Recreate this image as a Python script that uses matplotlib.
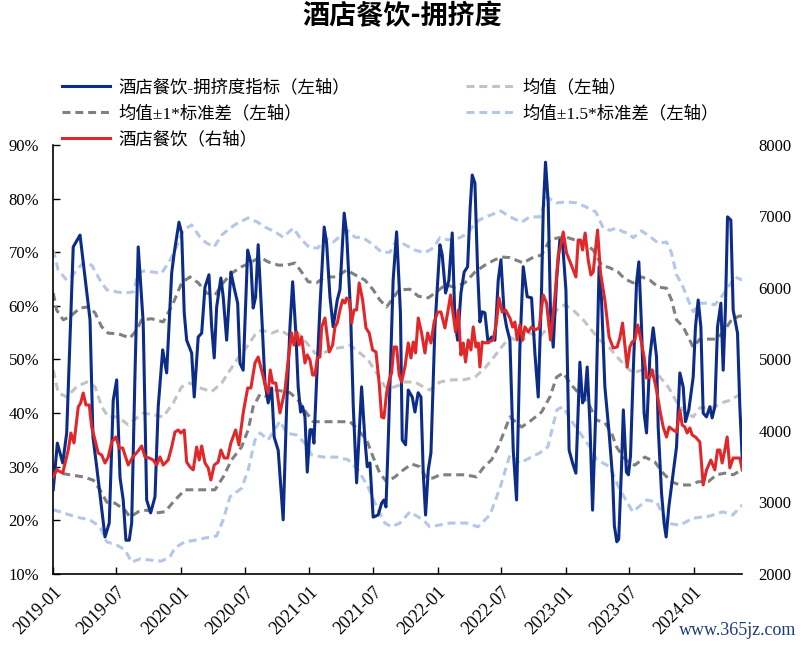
import numpy as np
import pandas as pd
import matplotlib
matplotlib.use("Agg")
import matplotlib.pyplot as plt
import matplotlib.dates as mdates
from matplotlib.lines import Line2D
from matplotlib.ticker import FuncFormatter, MultipleLocator

plt.rcParams["font.family"] = ["Liberation Serif", "Noto Sans CJK SC", "DejaVu Sans"]
plt.rcParams["axes.unicode_minus"] = False

# time is in years since 2019-01-01
idx_t = [0.002, 0.034, 0.076, 0.107, 0.158, 0.211, 0.289, 0.312, 0.341, 0.406,
         0.439, 0.470, 0.497, 0.523, 0.548, 0.569, 0.595, 0.614, 0.640, 0.665,
         0.704, 0.731, 0.762, 0.796, 0.821, 0.856, 0.887, 0.926, 0.946, 0.983,
         1.004, 1.024, 1.043, 1.082, 1.102, 1.133, 1.160, 1.186, 1.217, 1.238,
         1.258, 1.277, 1.310, 1.328, 1.355, 1.388, 1.414, 1.441, 1.459, 1.484,
         1.519, 1.544, 1.562, 1.581, 1.601, 1.633, 1.654, 1.679, 1.706, 1.726,
         1.757, 1.796, 1.823, 1.849, 1.870, 1.895, 1.913, 1.932, 1.948, 1.966,
         1.984, 2.005, 2.023, 2.036, 2.057, 2.083, 2.116, 2.135, 2.161, 2.186,
         2.218, 2.239, 2.272, 2.291, 2.322, 2.343, 2.369, 2.408, 2.434, 2.452,
         2.473, 2.498, 2.537, 2.564, 2.582, 2.598, 2.616, 2.654, 2.681, 2.711,
         2.725, 2.751, 2.772, 2.803, 2.824, 2.849, 2.871, 2.889, 2.907, 2.928,
         2.949, 2.980, 3.019, 3.037, 3.063, 3.089, 3.115, 3.136, 3.157, 3.183,
         3.208, 3.235, 3.255, 3.271, 3.292, 3.313, 3.331, 3.349, 3.370, 3.395,
         3.422, 3.448, 3.474, 3.495, 3.520, 3.539, 3.565, 3.591, 3.617, 3.643,
         3.669, 3.700, 3.734, 3.760, 3.786, 3.812, 3.825, 3.843, 3.864, 3.882,
         3.903, 3.929, 3.955, 3.976, 4.002, 4.027, 4.054, 4.080, 4.111, 4.132,
         4.150, 4.168, 4.189, 4.210, 4.236, 4.261, 4.280, 4.306, 4.339, 4.366,
         4.380, 4.399, 4.414, 4.436, 4.450, 4.474, 4.490, 4.506, 4.527, 4.553,
         4.571, 4.592, 4.612, 4.631, 4.657, 4.683, 4.709, 4.722, 4.748, 4.768,
         4.784, 4.805, 4.839, 4.865, 4.891, 4.917, 4.935, 4.961, 4.995, 5.013,
         5.034, 5.055, 5.073, 5.099, 5.125, 5.143, 5.164, 5.185, 5.211, 5.229,
         5.247, 5.263, 5.289, 5.307, 5.341, 5.359, 5.378]
idx_v = [25.7, 34.4, 30.7, 36.3, 71.0, 73.2, 57.4, 35.5, 30.0, 16.9,
         19.5, 42.4, 46.2, 28.0, 23.8, 16.3, 16.3, 19.5, 47.5, 71.0,
         56.8, 23.8, 21.4, 24.4, 41.2, 51.8, 47.5, 66.1, 69.9, 75.6,
         73.6, 58.7, 53.6, 51.2, 43.0, 54.2, 54.9, 63.5, 65.8, 56.1,
         50.3, 59.8, 65.2, 61.7, 53.6, 66.3, 63.3, 60.5, 49.3, 48.0,
         70.4, 68.0, 59.6, 61.7, 71.4, 56.1, 45.6, 41.9, 44.7, 35.5,
         33.1, 20.1, 41.2, 56.1, 64.5, 54.9, 44.9, 40.2, 41.2, 39.3,
         29.0, 36.9, 36.9, 34.4, 46.2, 59.8, 74.7, 71.7, 61.7, 56.1,
         61.1, 63.0, 77.3, 73.6, 58.7, 41.2, 27.0, 44.9, 35.0, 30.0,
         30.7, 20.6, 21.0, 23.2, 23.8, 22.5, 35.0, 64.8, 73.8, 58.7,
         35.0, 34.1, 44.3, 43.0, 40.2, 43.8, 43.0, 28.8, 21.0, 29.4,
         32.6, 56.1, 71.4, 69.5, 62.4, 64.8, 73.6, 57.4, 53.6, 62.4,
         66.3, 67.3, 78.4, 84.4, 82.9, 66.7, 57.0, 58.9, 58.7, 53.1,
         54.2, 53.6, 64.8, 68.6, 58.7, 56.1, 53.6, 33.1, 23.8, 52.3,
         67.3, 61.7, 61.5, 51.2, 43.0, 63.0, 77.9, 86.8, 79.2, 58.7,
         52.3, 64.8, 72.3, 71.7, 63.0, 33.1, 30.7, 28.8, 49.5, 41.9,
         43.0, 48.6, 38.2, 21.9, 41.2, 67.3, 61.1, 44.9, 36.3, 28.1,
         19.0, 16.0, 16.5, 30.0, 40.6, 29.0, 28.5, 32.0, 47.5, 64.3,
         68.2, 56.1, 40.0, 36.3, 50.5, 55.9, 50.5, 37.4, 25.1, 19.5,
         16.9, 22.5, 28.8, 33.7, 47.5, 44.9, 38.4, 40.6, 46.7, 56.1,
         61.1, 56.1, 40.0, 39.3, 41.2, 39.1, 41.2, 56.1, 60.5, 48.0,
         59.8, 76.6, 76.0, 59.2, 54.9, 41.2, 31.3]

sales_t = [0.002, 0.029, 0.076, 0.119, 0.140, 0.164, 0.197, 0.216, 0.236, 0.257,
           0.283, 0.302, 0.328, 0.353, 0.380, 0.406, 0.431, 0.458, 0.491, 0.517,
           0.544, 0.569, 0.587, 0.622, 0.658, 0.692, 0.718, 0.751, 0.782, 0.809,
           0.835, 0.860, 0.899, 0.926, 0.952, 0.977, 0.998, 1.024, 1.043, 1.069,
           1.094, 1.121, 1.141, 1.160, 1.186, 1.211, 1.232, 1.258, 1.289, 1.310,
           1.336, 1.363, 1.388, 1.425, 1.451, 1.484, 1.519, 1.544, 1.576, 1.601,
           1.633, 1.659, 1.679, 1.695, 1.714, 1.739, 1.771, 1.810, 1.835, 1.862,
           1.880, 1.901, 1.921, 1.940, 1.966, 1.984, 2.005, 2.026, 2.044, 2.062,
           2.083, 2.096, 2.122, 2.155, 2.182, 2.200, 2.218, 2.239, 2.260, 2.278,
           2.291, 2.311, 2.330, 2.348, 2.369, 2.389, 2.416, 2.442, 2.467, 2.494,
           2.520, 2.545, 2.564, 2.582, 2.603, 2.623, 2.642, 2.660, 2.681, 2.701,
           2.720, 2.746, 2.772, 2.793, 2.811, 2.829, 2.850, 2.876, 2.902, 2.923,
           2.949, 2.974, 3.001, 3.027, 3.058, 3.079, 3.102, 3.123, 3.141, 3.162,
           3.183, 3.201, 3.219, 3.240, 3.261, 3.279, 3.300, 3.318, 3.331, 3.349,
           3.375, 3.401, 3.435, 3.461, 3.479, 3.505, 3.531, 3.565, 3.586, 3.604,
           3.622, 3.643, 3.664, 3.682, 3.708, 3.734, 3.760, 3.793, 3.825, 3.851,
           3.882, 3.916, 3.942, 3.960, 3.981, 4.007, 4.038, 4.080, 4.098, 4.116,
           4.132, 4.152, 4.176, 4.197, 4.215, 4.249, 4.272, 4.306, 4.339, 4.371,
           4.402, 4.423, 4.444, 4.462, 4.480, 4.501, 4.519, 4.540, 4.563, 4.587,
           4.612, 4.631, 4.657, 4.675, 4.709, 4.735, 4.761, 4.787, 4.807, 4.839,
           4.865, 4.891, 4.909, 4.930, 4.948, 4.969, 4.987, 5.013, 5.047, 5.073,
           5.099, 5.133, 5.164, 5.185, 5.203, 5.221, 5.242, 5.260, 5.281, 5.307,
           5.333, 5.359, 5.378]
sales_v = [3357, 3455, 3413, 3734, 3972, 3832, 4336, 4392, 4531, 4364,
           4364, 4056, 3874, 3692, 3664, 3552, 3636, 3846, 3916, 3762,
           3762, 3622, 3524, 3636, 3706, 3790, 3636, 3622, 3594, 3524,
           3636, 3524, 3594, 3776, 3986, 4014, 3972, 4014, 3566, 3496,
           3455, 3776, 3594, 3790, 3552, 3483, 3315, 3524, 3566, 3734,
           3622, 3622, 3832, 4014, 3804, 4252, 4601, 4601, 4951, 5035,
           4811, 4615, 4531, 4853, 4671, 4671, 4252, 4573, 4993, 5371,
           5203, 5385, 5203, 5315, 4951, 5063, 4993, 4783, 4783, 5021,
           5035, 5455, 5580, 5105, 5203, 5455, 5510, 5692, 5832, 5790,
           5860, 5832, 5510, 5692, 5692, 6070, 5832, 5441, 5371, 5133,
           5105, 4671, 4196, 4182, 4531, 4713, 4811, 5175, 5175, 4783,
           4685, 4895, 5231, 5021, 5245, 5091, 5580, 5371, 5091, 5371,
           5231, 5524, 5664, 5664, 5441, 5650, 5902, 5622, 5385, 5692,
           5063, 5231, 4965, 5273, 5133, 5455, 5175, 5231, 4895, 5245,
           5231, 5245, 5273, 5524, 5860, 5664, 5692, 5580, 5455, 5524,
           5273, 5483, 5273, 5455, 5385, 5455, 5413, 5441, 5902, 5790,
           5273, 5874, 6462, 6573, 6783, 6490, 6350, 6154, 6671, 6671,
           6531, 6769, 6392, 6182, 6224, 6811, 6210, 5832, 5315, 5161,
           5175, 5301, 5510, 5203, 4895, 5175, 5245, 5273, 5483, 5273,
           5035, 4741, 4755, 4853, 4573, 4294, 4056, 3916, 4056, 4014,
           3986, 4294, 4084, 4056, 3972, 4042, 3944, 3916, 3846, 3245,
           3455, 3594, 3455, 3734, 3734, 3552, 3734, 3916, 3483, 3622,
           3622, 3622, 3455]

up15_t = [0.002, 0.041, 0.107, 0.146, 0.185, 0.236, 0.302, 0.367, 0.419, 0.497,
          0.562, 0.626, 0.665, 0.704, 0.782, 0.848, 0.913, 0.952, 1.016, 1.082,
          1.147, 1.199, 1.258, 1.316, 1.381, 1.445, 1.523, 1.597, 1.654, 1.732,
          1.796, 1.874, 1.940, 2.005, 2.069, 2.122, 2.186, 2.252, 2.303, 2.356,
          2.420, 2.498, 2.564, 2.629, 2.681, 2.746, 2.824, 2.902, 2.966, 3.019,
          3.083, 3.175, 3.240, 3.292, 3.357, 3.422, 3.495, 3.565, 3.656, 3.721,
          3.799, 3.851, 3.929, 4.007, 4.085, 4.163, 4.236, 4.293, 4.345, 4.397,
          4.449, 4.493, 4.527, 4.592, 4.670, 4.722, 4.787, 4.826, 4.865, 4.917,
          4.956, 4.995, 5.047, 5.112, 5.164, 5.216, 5.268, 5.320, 5.378]
up15_v = [70.4, 66.7, 64.8, 65.4, 66.7, 68.0, 67.6, 64.8, 63.0, 62.6,
          62.4, 62.6, 66.1, 66.5, 66.3, 66.1, 68.5, 70.4, 74.1, 75.1,
          72.8, 71.7, 71.0, 73.2, 74.5, 75.5, 76.4, 75.6, 74.7, 73.8,
          72.8, 74.5, 72.3, 70.8, 70.8, 72.7, 71.9, 73.2, 74.0, 72.8,
          72.7, 71.4, 70.0, 70.0, 72.3, 71.4, 70.4, 69.9, 70.8, 72.7,
          72.3, 72.7, 73.6, 75.5, 76.4, 77.0, 77.7, 76.6, 75.6, 76.6,
          76.6, 80.3, 79.2, 79.4, 79.2, 78.4, 77.5, 74.5, 74.1, 74.5,
          73.8, 73.5, 72.7, 74.0, 72.7, 71.7, 71.9, 69.9, 65.8, 63.5,
          61.1, 58.9, 60.5, 60.5, 60.2, 61.7, 63.5, 65.4, 64.8]

up1_t = [0.002, 0.029, 0.080, 0.133, 0.211, 0.275, 0.328, 0.380, 0.431, 0.509,
         0.601, 0.653, 0.692, 0.770, 0.860, 0.938, 1.004, 1.069, 1.133, 1.199,
         1.264, 1.328, 1.394, 1.472, 1.537, 1.615, 1.679, 1.757, 1.823, 1.888,
         1.940, 1.991, 2.057, 2.122, 2.213, 2.291, 2.356, 2.434, 2.498, 2.550,
         2.603, 2.655, 2.701, 2.785, 2.850, 2.928, 2.993, 3.058, 3.136, 3.214,
         3.292, 3.370, 3.448, 3.500, 3.565, 3.669, 3.734, 3.812, 3.877, 3.942,
         4.007, 4.072, 4.137, 4.215, 4.280, 4.345, 4.410, 4.462, 4.527, 4.592,
         4.657, 4.722, 4.787, 4.826, 4.865, 4.917, 4.956, 4.995, 5.047, 5.177,
         5.242, 5.294, 5.354, 5.378]
up1_v = [62.4, 59.2, 57.4, 58.0, 59.6, 59.8, 58.7, 56.1, 54.9, 54.8,
         54.0, 55.5, 57.4, 57.6, 57.0, 60.5, 64.3, 65.4, 64.3, 62.4,
         62.0, 64.3, 66.1, 67.3, 68.0, 69.1, 68.2, 67.6, 67.6, 68.0,
         66.3, 64.5, 64.3, 65.4, 65.4, 66.7, 65.8, 64.8, 63.0, 61.1,
         59.8, 61.5, 63.0, 63.1, 61.8, 61.5, 62.6, 63.9, 63.5, 64.3,
         66.3, 67.6, 68.6, 69.1, 69.0, 68.0, 68.9, 69.5, 72.3, 72.7,
         72.8, 72.3, 71.9, 70.4, 67.6, 67.1, 66.3, 65.0, 64.3, 65.4,
         64.8, 63.5, 63.3, 61.1, 57.4, 56.1, 54.2, 52.3, 53.8, 53.8,
         55.5, 57.4, 58.1, 58.1]

mean_t = [0.002, 0.041, 0.107, 0.185, 0.263, 0.328, 0.380, 0.431, 0.509, 0.587,
          0.653, 0.704, 0.782, 0.860, 0.938, 1.004, 1.069, 1.147, 1.238, 1.316,
          1.381, 1.445, 1.511, 1.576, 1.628, 1.706, 1.771, 1.835, 1.913, 1.979,
          2.044, 2.108, 2.186, 2.264, 2.317, 2.395, 2.459, 2.525, 2.590, 2.642,
          2.701, 2.733, 2.824, 2.889, 2.941, 3.019, 3.110, 3.201, 3.292, 3.370,
          3.435, 3.500, 3.565, 3.643, 3.721, 3.799, 3.864, 3.929, 3.994, 4.059,
          4.137, 4.215, 4.267, 4.345, 4.423, 4.488, 4.527, 4.592, 4.657, 4.722,
          4.800, 4.865, 4.930, 4.995, 5.047, 5.112, 5.164, 5.216, 5.281, 5.354,
          5.378]
mean_v = [48.0, 43.8, 43.0, 44.9, 45.8, 44.9, 41.2, 39.3, 39.3, 37.8,
          39.1, 40.0, 39.7, 39.3, 41.9, 44.9, 45.6, 44.7, 44.0, 45.6,
          48.0, 50.3, 52.3, 54.6, 55.5, 54.9, 55.5, 54.6, 54.9, 53.1,
          51.2, 51.2, 52.0, 52.3, 52.7, 51.2, 49.9, 47.5, 44.9, 44.7,
          45.2, 45.8, 45.8, 44.9, 44.3, 45.8, 46.2, 46.2, 46.7, 48.4,
          50.3, 52.3, 54.2, 53.1, 54.9, 54.2, 56.1, 59.2, 60.2, 59.2,
          57.4, 55.1, 53.6, 52.1, 49.9, 48.3, 47.5, 48.0, 48.4, 47.1,
          44.9, 42.1, 40.2, 39.3, 41.0, 41.0, 41.2, 41.9, 42.4, 43.4,
          44.0]

lo1_t = [0.002, 0.055, 0.133, 0.236, 0.314, 0.367, 0.419, 0.484, 0.562, 0.601,
         0.665, 0.731, 0.809, 0.874, 0.952, 1.030, 1.264, 1.328, 1.394, 1.472,
         1.523, 1.562, 1.615, 1.679, 1.745, 1.804, 1.849, 1.913, 1.979, 2.031,
         2.317, 2.369, 2.447, 2.498, 2.550, 2.603, 2.668, 2.733, 2.798, 2.863,
         2.915, 2.966, 3.019, 3.214, 3.305, 3.357, 3.422, 3.474, 3.526, 3.565,
         3.656, 3.734, 3.812, 3.877, 3.929, 3.981, 4.033, 4.098, 4.176, 4.241,
         4.306, 4.358, 4.397, 4.449, 4.496, 4.540, 4.618, 4.696, 4.761, 4.826,
         4.891, 4.969, 5.034, 5.112, 5.177, 5.242, 5.307, 5.378]
lo1_v = [30.3, 28.8, 28.5, 28.1, 27.5, 25.7, 23.4, 23.2, 21.9, 20.6,
         21.6, 21.9, 21.4, 21.6, 23.8, 25.7, 25.7, 28.1, 31.3, 33.7,
         36.9, 41.2, 43.5, 43.0, 44.3, 44.0, 43.8, 42.4, 40.0, 38.4,
         38.4, 37.2, 35.0, 31.8, 28.8, 27.2, 28.1, 29.4, 30.5, 30.0,
         27.9, 27.9, 28.5, 28.5, 28.1, 29.8, 31.3, 33.7, 36.9, 39.3,
         37.4, 38.7, 40.2, 43.0, 46.7, 47.5, 45.6, 43.8, 41.9, 38.7,
         38.2, 36.3, 33.7, 31.8, 30.7, 30.3, 31.8, 30.9, 28.8, 27.2,
         26.6, 26.6, 27.2, 27.2, 28.5, 28.8, 28.5, 29.5]

lo15_t = [0.002, 0.080, 0.185, 0.289, 0.367, 0.419, 0.497, 0.562, 0.614, 0.679,
          0.757, 0.848, 0.913, 0.952, 1.030, 1.108, 1.186, 1.277, 1.328, 1.381,
          1.472, 1.523, 1.576, 1.615, 1.679, 1.718, 1.771, 1.823, 1.901, 1.966,
          2.018, 2.108, 2.213, 2.303, 2.381, 2.459, 2.525, 2.590, 2.642, 2.707,
          2.785, 2.886, 2.941, 3.097, 3.229, 3.315, 3.409, 3.487, 3.565, 3.643,
          3.799, 3.861, 3.931, 3.978, 4.056, 4.189, 4.243, 4.345, 4.423, 4.524,
          4.633, 4.711, 4.789, 4.891, 4.992, 5.125, 5.226, 5.304, 5.378]
lo15_v = [22.0, 21.4, 20.6, 20.1, 18.8, 16.0, 15.4, 14.5, 12.2, 12.8,
          12.6, 12.4, 13.2, 14.9, 16.0, 16.3, 16.7, 17.1, 20.1, 24.4,
          26.0, 29.4, 35.0, 36.3, 35.0, 36.5, 38.5, 36.3, 35.9, 34.4,
          32.2, 31.8, 31.8, 31.3, 29.4, 26.2, 22.5, 19.5, 18.8, 19.5,
          21.6, 20.1, 18.8, 19.5, 19.5, 18.8, 21.0, 26.0, 32.2, 30.7,
          32.6, 33.7, 40.6, 41.2, 38.2, 33.7, 31.3, 30.0, 25.7, 21.6,
          23.8, 23.4, 19.5, 19.1, 20.4, 20.8, 21.6, 21.0, 22.9]

BASE = pd.Timestamp("2019-01-01")
END_YEARS = 5.376


def to_dates(years):
    return BASE + pd.to_timedelta(np.asarray(years) * 365.25, unit="D")


fig = plt.figure(figsize=(8.04, 6.45), dpi=100)
ax = fig.add_axes([0.0659, 0.1101, 0.8570, 0.6651])
ax2 = ax.twinx()

blue = "#0c2c88"
red = "#e0282a"
dark_gray = "#808080"
light_gray = "#c3c3c3"
light_blue = "#b4c7e7"
dash = (2.6, 1.6)
lw = 2.2

ax.plot(to_dates(up15_t), up15_v, color=light_blue, lw=lw, dashes=dash, zorder=2)
ax.plot(to_dates(lo15_t), lo15_v, color=light_blue, lw=lw, dashes=dash, zorder=2)
ax.plot(to_dates(up1_t), up1_v, color=dark_gray, lw=lw, dashes=dash, zorder=2)
ax.plot(to_dates(lo1_t), lo1_v, color=dark_gray, lw=lw, dashes=dash, zorder=2)
ax.plot(to_dates(mean_t), mean_v, color=light_gray, lw=lw, dashes=dash, zorder=2)
ax.plot(to_dates(idx_t), idx_v, color=blue, lw=lw, zorder=3)
ax2.plot(to_dates(sales_t), sales_v, color=red, lw=lw, zorder=3)

ax.set_xlim(BASE, BASE + pd.Timedelta(days=END_YEARS * 365.25))
ax.set_ylim(10, 90)
ax2.set_ylim(2000, 8000)
ax.yaxis.set_major_locator(MultipleLocator(10))
ax.yaxis.set_major_formatter(FuncFormatter(lambda v, p: f"{v:.0f}%"))
ax2.yaxis.set_major_locator(MultipleLocator(1000))
ax.xaxis.set_major_locator(mdates.MonthLocator(bymonth=[1, 7]))
ax.xaxis.set_major_formatter(mdates.DateFormatter("%Y-%m"))

for a in (ax, ax2):
    a.spines["top"].set_visible(False)
    a.spines["right"].set_visible(False)
ax2.spines["left"].set_visible(False)
ax2.spines["bottom"].set_visible(False)
ax.spines["left"].set_linewidth(1.2)
ax.spines["bottom"].set_linewidth(1.2)

ax.tick_params(axis="y", direction="in", length=5, width=1, labelsize=12, pad=10)
ax.tick_params(axis="x", direction="in", length=5, width=1, labelsize=13, pad=7)
ax2.tick_params(axis="y", length=0, labelsize=12, pad=12)
for lab in ax.get_xticklabels():
    lab.set_rotation(45)
    lab.set_ha("right")
    lab.set_rotation_mode("anchor")

# legend: column-first order gives the two-column layout of the reference
h_idx = Line2D([], [], color=blue, lw=lw)
h_mean = Line2D([], [], color=light_gray, lw=lw, dashes=dash)
h_1 = Line2D([], [], color=dark_gray, lw=lw, dashes=dash)
h_15 = Line2D([], [], color=light_blue, lw=lw, dashes=dash)
h_red = Line2D([], [], color=red, lw=lw)
handles = [h_idx, h_1, h_red, h_mean, h_15]
labels = ["酒店餐饮-拥挤度指标（左轴）", "均值±1*标准差（左轴）", "酒店餐饮（右轴）",
          "均值（左轴）", "均值±1.5*标准差（左轴）"]
fig.legend(handles, labels, ncol=2, frameon=False, fontsize=12.5,
           loc="upper left", bbox_to_anchor=(0.068, 0.888),
           handlelength=2.8, handletextpad=0.45, columnspacing=6.7,
           labelspacing=0.53, borderaxespad=0)

fig.text(0.5, 0.975, "酒店餐饮-拥挤度", ha="center", va="center",
         fontsize=19.5, fontweight="bold", family=["Noto Sans CJK SC"])
fig.text(0.991, 0.023, "www.365jz.com", ha="right", va="center",
         fontsize=13, color="#1d3c7c", family=["Liberation Serif"])

fig.savefig("out.png", dpi=100)
